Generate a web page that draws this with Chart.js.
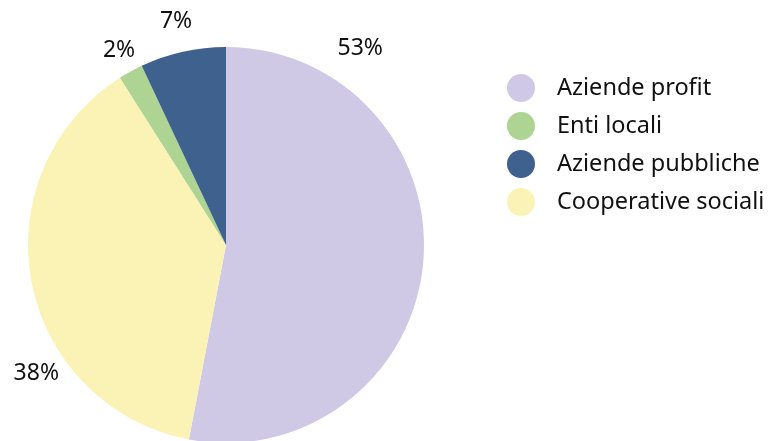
<!DOCTYPE html>
<html>
<head>
<meta charset="utf-8">
<script src="https://cdn.jsdelivr.net/npm/chart.js@4.4.1/dist/chart.umd.min.js"></script>
<style>
  html, body { margin: 0; padding: 0; background: #ffffff; overflow: hidden; }
  #wrap { width: 769px; height: 441px; overflow: hidden; position: relative; }
  canvas { display: block; }
</style>
</head>
<body>
<div id="wrap"><canvas id="c" width="769" height="445"></canvas></div>
<script>
// Data (drawing order, clockwise from top)
const categories = ["Aziende profit", "Cooperative sociali", "Enti locali", "Aziende pubbliche"];
const values = [53, 38, 2, 7];
const colors = ["#cfc9e6", "#fbf3b5", "#aed494", "#3e618e"];
const valueLabels = ["53%", "38%", "2%", "7%"];
// Legend order as in the reference
const legendOrder = ["Aziende profit", "Enti locali", "Aziende pubbliche", "Cooperative sociali"];
// Where along each slice the outside label sits (fraction of the slice span)
const labelAlong = [0.18, 0.33, 0.5, 0.5];
const labelOffset = [40, 31, 24, 31];

const FONT = "'Noto Sans', Lato, sans-serif";

const outsideLabels = {
  id: 'outsideLabels',
  afterDatasetsDraw(chart) {
    const ctx = chart.ctx;
    const meta = chart.getDatasetMeta(0);
    ctx.save();
    ctx.font = "23px " + FONT;
    ctx.fillStyle = "#111111";
    ctx.textAlign = "center";
    ctx.textBaseline = "middle";
    meta.data.forEach((arc, i) => {
      const p = arc.getProps(['x', 'y', 'startAngle', 'endAngle', 'outerRadius'], true);
      const a = p.startAngle + labelAlong[i] * (p.endAngle - p.startAngle);
      const r = p.outerRadius + labelOffset[i];
      ctx.fillText(valueLabels[i], p.x + r * Math.cos(a), p.y + r * Math.sin(a));
    });
    ctx.restore();
  }
};

const customLegend = {
  id: 'customLegend',
  afterDraw(chart) {
    const ctx = chart.ctx;
    ctx.save();
    const x0 = 521, y0 = 88, step = 38;
    legendOrder.forEach((name, k) => {
      const i = categories.indexOf(name);
      const y = y0 + k * step;
      ctx.beginPath();
      ctx.fillStyle = colors[i];
      ctx.arc(x0, y, 14, 0, Math.PI * 2);
      ctx.fill();
      ctx.font = "23.5px " + FONT;
      ctx.fillStyle = "#111111";
      ctx.textAlign = "left";
      ctx.textBaseline = "middle";
      ctx.fillText(name, 557, y);
    });
    ctx.restore();
  }
};

new Chart(document.getElementById('c'), {
  type: 'pie',
  data: {
    labels: categories,
    datasets: [{
      data: values,
      backgroundColor: colors,
      borderWidth: 0
    }]
  },
  options: {
    responsive: false,
    animation: false,
    layout: { padding: { left: 28, top: 47, right: 345, bottom: 2 } },
    plugins: {
      legend: { display: false },
      tooltip: { enabled: false }
    }
  },
  plugins: [outsideLabels, customLegend]
});
</script>
</body>
</html>
